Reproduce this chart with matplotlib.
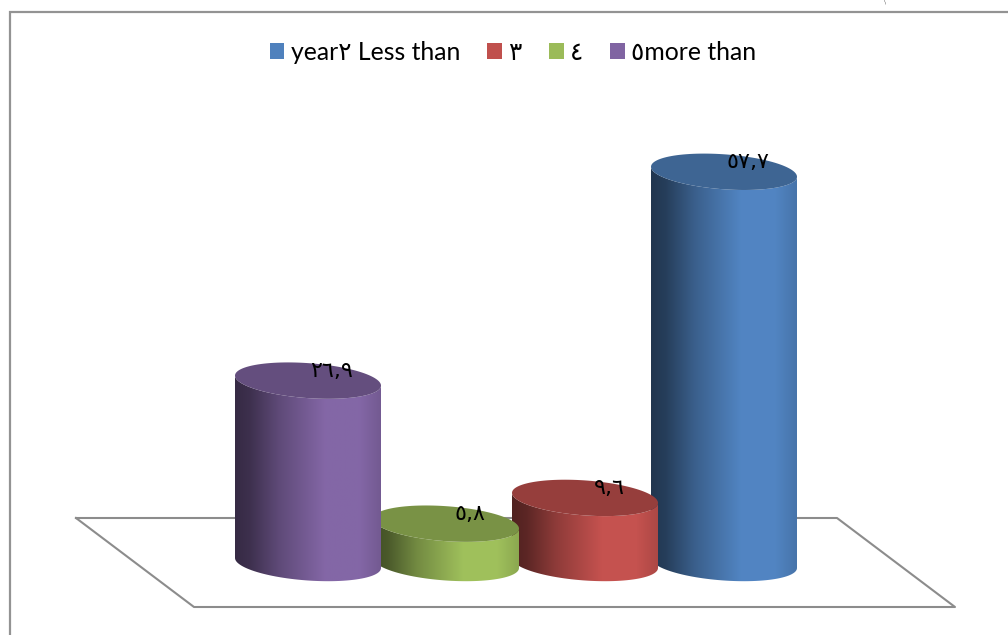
import numpy as np
import matplotlib
matplotlib.use("Agg")
import matplotlib.pyplot as plt
from matplotlib.colors import LinearSegmentedColormap, to_rgb
from matplotlib.patches import Patch, PathPatch
from matplotlib.path import Path

plt.rcParams['font.family'] = ['Lato', 'DejaVu Sans']

# draw order is back to front
categories = ["year٢ Less than", "٣", "٤", "٥more than"]
values = [57.7, 9.6, 5.8, 26.9]
value_labels = ["٥٧,٧", "٩,٦", "٥,٨", "٢٦,٩"]
colors = ["#4f81bd", "#c0504d", "#9bbb59", "#8064a2"]
bar_left = [651, 512, 373, 235]

BAR_W = 146
BASE_Y = 563       # pixel row of value 0
PX_PER_UNIT = 6.78
ELL_B = 17.5 / PX_PER_UNIT
ELL_TILT = 5 / PX_PER_UNIT
GRID = "#8c8c8c"


def ellipse_pts(cx, cy, t):
    return np.column_stack([cx + BAR_W / 2 * np.cos(t),
                            cy - ELL_B * np.sin(t) - ELL_TILT * np.cos(t)])


def shade_map(base):
    rgb = np.array(to_rgb(base))
    stops = [(0, 0.42), (0.1, 0.48), (0.3, 0.74), (0.62, 1.03), (0.85, 1.03), (1, 0.9)]
    return LinearSegmentedColormap.from_list(
        "side", [(p, tuple(np.clip(rgb * f, 0, 1))) for p, f in stops])


fig = plt.figure(figsize=(10.08, 6.35), dpi=100)
ax = fig.add_axes([0, 0, 1, 1])

# outer chart frame, cut by the image edges
ax.plot([9.5, 9.5, 1008], [-20, (BASE_Y - 12) / PX_PER_UNIT, (BASE_Y - 12) / PX_PER_UNIT],
        color="#939393", lw=1.6, solid_joinstyle="miter")

# floor
floor_x = [76, 837, 955, 194, 76]
floor_y = [(BASE_Y - y) / PX_PER_UNIT for y in [518, 518, 607, 607, 518]]
ax.plot(floor_x, floor_y, color=GRID, lw=1.5, zorder=1)

gradient = np.linspace(0, 1, 256).reshape(1, -1)
for i, (val, lab, col, left) in enumerate(zip(values, value_labels, colors, bar_left)):
    cx = left + BAR_W / 2
    z = 2 + i
    top = ellipse_pts(cx, val, np.linspace(0, 2 * np.pi, 120))
    # side: lower half of base ellipse, then up and over the top ellipse
    side_pts = np.vstack([ellipse_pts(cx, 0, np.linspace(np.pi, 0, 60)),
                          ellipse_pts(cx, val, np.linspace(0, np.pi, 60))])
    side_pts = np.vstack([side_pts, side_pts[:1]])
    im = ax.imshow(gradient, cmap=shade_map(col), aspect="auto", zorder=z,
                   extent=[left, left + BAR_W, -ELL_B - 2, val + ELL_B + 2])
    side = PathPatch(Path(side_pts), transform=ax.transData, fc="none", ec="none")
    ax.add_patch(side)
    im.set_clip_path(side)
    ax.fill(top[:, 0], top[:, 1], color=tuple(np.array(to_rgb(col)) * 0.78), lw=0, zorder=z + 0.1)
    ax.annotate(lab, (cx, val), xytext=(24, 10), textcoords="offset pixels",
                ha="center", va="center", fontsize=16, family="DejaVu Sans",
                color="black", zorder=20)

ax.set_xlim(0, 1008)
ax.set_ylim((BASE_Y - 635) / PX_PER_UNIT, BASE_Y / PX_PER_UNIT)
ax.axis("off")

# legend order is the category order
handles = [Patch(fc=c, ec="none") for c in colors]
ax.legend(handles, categories, ncol=4, loc="center", bbox_to_anchor=(513 / 1008, 1 - 52.5 / 635),
          frameon=False, fontsize=17.8, handlelength=0.6, handleheight=0.6,
          handletextpad=0.25, columnspacing=1.1, borderpad=0, labelspacing=0)

# scrap of body text at the top edge of the crop
ax.text(885, (BASE_Y - 1.5) / PX_PER_UNIT, "\\", fontsize=3.5, ha="center", va="center", color="#222222")

fig.savefig("out.png", dpi=100)
